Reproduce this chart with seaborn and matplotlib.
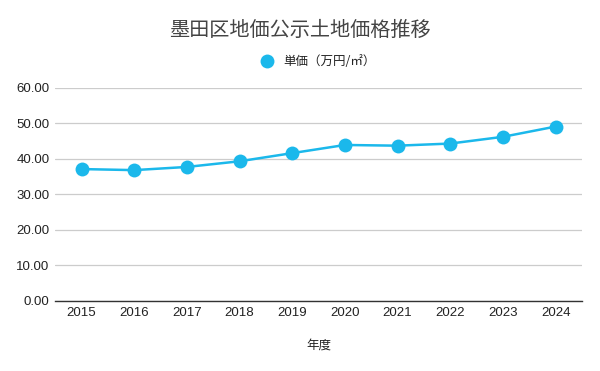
import matplotlib
matplotlib.use('Agg')
import matplotlib.pyplot as plt
import seaborn as sns
import pandas as pd

years = ['2015', '2016', '2017', '2018', '2019', '2020', '2021', '2022', '2023', '2024']
unit_price = [37.1, 36.8, 37.7, 39.3, 41.6, 43.9, 43.7, 44.3, 46.2, 49.1]
series_name = '単価（万円/㎡）'

df = pd.DataFrame({'年度': years, series_name: unit_price})

sns.set_style('white')
plt.rcParams['font.family'] = ['Noto Sans CJK JP', 'DejaVu Sans']

color = '#1BB8EB'
fig, ax = plt.subplots(figsize=(6.0, 3.71), dpi=100)
fig.subplots_adjust(left=0.092, right=0.97, top=0.763, bottom=0.19)

sns.lineplot(data=df, x='年度', y=series_name, ax=ax, color=color, lw=1.8,
             marker='o', markersize=10, markeredgewidth=0, sort=False,
             label=series_name)

ax.set_ylim(0, 60)
ax.set_yticks(range(0, 61, 10))
ax.set_yticklabels([f'{v:.2f}' for v in range(0, 61, 10)], family=['Liberation Sans', 'DejaVu Sans'])
ax.set_xlim(-0.5, len(years) - 0.5)
for lbl in ax.get_xticklabels():
    lbl.set_family(['Liberation Sans', 'DejaVu Sans'])
ax.tick_params(axis='both', length=0, labelsize=9.5, colors='#222222')
ax.tick_params(axis='x', pad=5)
ax.tick_params(axis='y', pad=4)
ax.grid(axis='y', color='#cccccc', lw=0.9)
ax.set_axisbelow(True)
for side in ['left', 'right', 'top']:
    ax.spines[side].set_visible(False)
ax.spines['bottom'].set_color('#333333')
ax.spines['bottom'].set_linewidth(1.0)

ax.set_ylabel('')
ax.set_xlabel('年度', fontsize=9, color='#222222', labelpad=14)

leg = ax.legend(loc='lower center', bbox_to_anchor=(0.5, 1.04), frameon=False,
                fontsize=9, handlelength=1.0, handletextpad=0.8)
for h in leg.legend_handles:
    h.set_linestyle('')
for t in leg.get_texts():
    t.set_color('#222222')

fig.suptitle('墨田区地価公示土地価格推移', x=0.5, y=0.945, fontsize=14.5, color='#444444')

fig.savefig('out.png', dpi=100, facecolor='white')
